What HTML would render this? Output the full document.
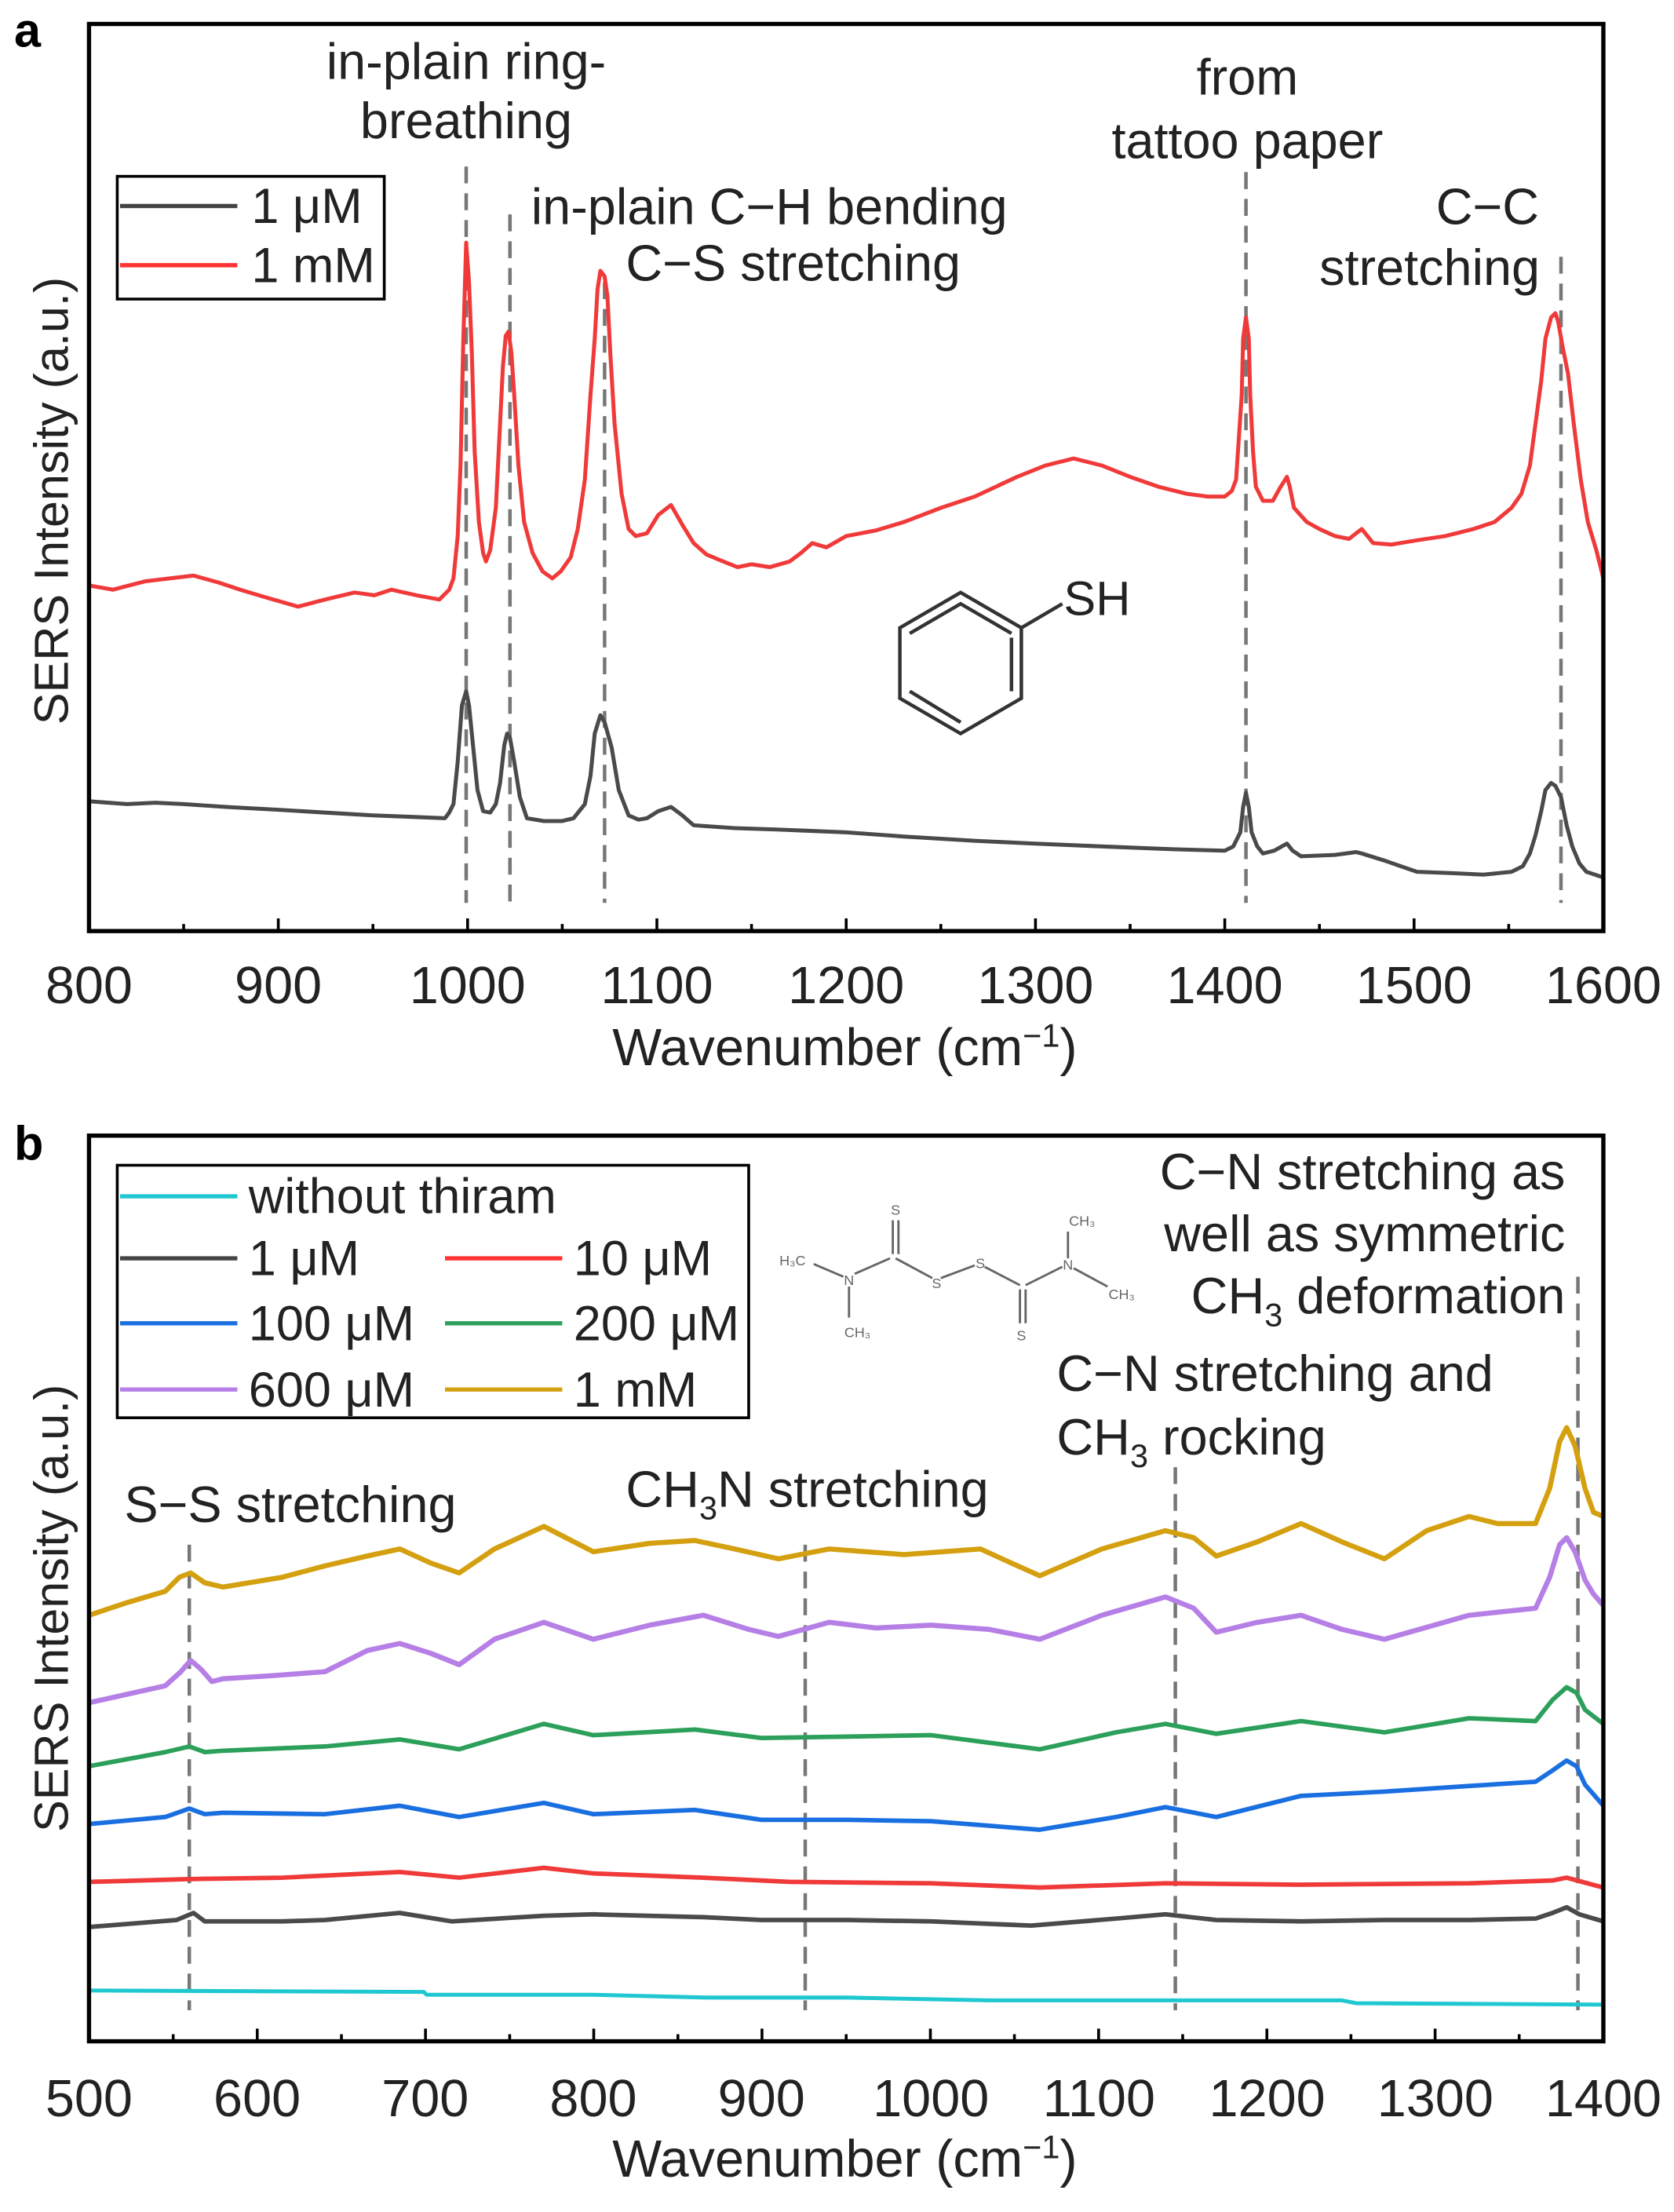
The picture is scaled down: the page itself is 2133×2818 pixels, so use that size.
<!DOCTYPE html>
<html><head><meta charset="utf-8"><style>
html,body{margin:0;padding:0;background:#fff;}
svg{display:block;}
text{font-family:"Liberation Sans",sans-serif;fill:#222;}
</style></head><body>
<svg width="2133" height="2818" viewBox="0 0 1185 1568" preserveAspectRatio="none" xmlns="http://www.w3.org/2000/svg">
<rect width="1185" height="1568" fill="#fff"/>
<text x="10" y="33" font-size="34" font-weight="bold" style="fill:#000">a</text>
<text x="10" y="822" font-size="34" font-weight="bold" style="fill:#000">b</text>

<g stroke="#777" stroke-width="2.5" stroke-dasharray="12,7">
<line x1="330" x2="330" y1="118" y2="640"/>
<line x1="361" x2="361" y1="152" y2="640"/>
<line x1="428" x2="428" y1="200" y2="640"/>
<line x1="882" x2="882" y1="122" y2="640"/>
<line x1="1105" x2="1105" y1="182" y2="640"/>
</g>
<g fill="none" stroke-width="2.8" stroke-linejoin="round">
<polyline stroke="#f03a3a" points="63,415 80,418 103,412 120,410 137,408 155,413 170,418 190,424 211,430 230,425 251,420 265,422 277,418 295,422 311,425 318,418 321,410 324,380 326,330 328,240 330,172 332,200 334,250 336,320 339,370 342,392 344,398 347,390 351,360 354,300 356,260 358,238 360,235 362,250 364,280 367,330 371,370 377,392 384,405 391,410 397,405 404,395 409,375 414,340 418,280 421,240 423,205 425,192 428,196 430,210 432,250 435,300 440,350 445,375 450,380 458,378 466,365 475,358 483,372 491,385 500,393 512,398 522,402 532,400 545,402 559,398 567,392 575,385 585,388 599,380 620,376 640,370 666,360 690,352 720,338 740,330 760,325 780,330 800,338 820,345 840,350 855,352 867,352 872,348 875,340 877,310 879,280 880,240 882,225 884,240 885,280 887,320 889,345 894,355 901,355 906,346 911,338 913,345 916,360 925,370 934,375 945,380 955,382 960,378 964,375 968,380 972,385 985,386 1003,383 1023,380 1043,375 1058,370 1070,360 1077,350 1083,330 1087,300 1091,270 1094,240 1098,225 1101,222 1103,228 1106,245 1110,265 1114,300 1119,340 1124,370 1130,390 1135,410"/>
<polyline stroke="#4a4a4a" points="63,568 90,570 110,569 130,570 160,572 197,574 230,576 264,578 290,579 315,580 318,576 321,570 324,540 327,500 330,490 332,500 335,530 338,560 342,575 347,576 351,570 354,555 357,528 359,520 361,523 364,540 368,565 373,580 385,582 398,582 406,580 414,570 418,550 421,520 425,507 428,512 433,530 438,560 445,578 452,581 458,580 466,575 475,572 483,578 491,585 520,587 550,588 599,590 640,593 690,596 733,598 780,600 830,602 867,603 873,600 878,590 880,572 882,562 884,572 886,590 890,600 894,605 902,603 911,598 915,603 921,607 945,606 960,604 964,605 980,610 1003,618 1030,619 1050,620 1070,618 1078,614 1083,605 1087,592 1091,575 1094,560 1098,555 1101,557 1105,565 1109,585 1113,600 1118,612 1123,618 1135,622"/>
</g>

<g stroke="#777" stroke-width="2.5" stroke-dasharray="12,7">
<line x1="134" x2="134" y1="1095" y2="1425"/>
<line x1="570" x2="570" y1="1095" y2="1425"/>
<line x1="832" x2="832" y1="1040" y2="1425"/>
<line x1="1117" x2="1117" y1="905" y2="1425"/>
</g>
<g fill="none" stroke-linejoin="round">
<polyline stroke="#1fc8d0" stroke-width="2.8" points="63,1411 300,1412 302,1414 420,1414 500,1416 600,1416 700,1418 950,1418 960,1420 1135,1421"/>
<polyline stroke="#4a4a4a" stroke-width="3.2" points="63,1366 100,1363 125,1361 137,1356 145,1362 200,1362 230,1361 283,1356 320,1362 385,1358 420,1357 498,1359 539,1361 600,1361 659,1362 730,1365 790,1360 825,1357 861,1361 921,1362 980,1361 1040,1361 1087,1360 1099,1356 1109,1352 1118,1357 1135,1362"/>
<polyline stroke="#f03a3a" stroke-width="3.2" points="63,1334 134,1332 200,1331 283,1327 325,1331 385,1324 420,1328 498,1331 560,1334 659,1335 736,1338 825,1335 921,1336 1040,1335 1099,1333 1109,1331 1120,1334 1135,1338"/>
<polyline stroke="#1a6fe0" stroke-width="3.2" points="63,1293 117,1288 134,1282 145,1286 158,1285 230,1286 283,1280 325,1288 385,1278 420,1286 492,1283 539,1290 600,1290 659,1291 736,1297 790,1288 825,1281 861,1288 921,1273 980,1270 1040,1266 1087,1263 1099,1255 1109,1248 1116,1252 1122,1265 1135,1280"/>
<polyline stroke="#2ca05a" stroke-width="3.2" points="63,1252 117,1242 134,1238 145,1242 158,1241 230,1238 283,1233 325,1240 385,1222 420,1230 492,1226 539,1232 600,1231 659,1230 736,1240 790,1228 825,1222 861,1229 921,1220 980,1228 1040,1218 1087,1220 1099,1205 1109,1196 1116,1200 1122,1212 1135,1222"/>
<polyline stroke="#b57fe6" stroke-width="3.6" points="63,1207 90,1201 117,1195 128,1185 135,1177 142,1183 150,1192 158,1190 190,1188 230,1185 260,1170 283,1165 305,1172 325,1180 350,1162 385,1150 420,1162 460,1152 498,1145 530,1155 551,1160 587,1150 620,1154 659,1152 700,1155 736,1162 780,1145 825,1132 845,1140 861,1157 890,1150 921,1145 950,1155 980,1162 1040,1145 1087,1140 1097,1118 1104,1095 1109,1090 1115,1100 1122,1120 1128,1130 1135,1138"/>
<polyline stroke="#d4a010" stroke-width="3.6" points="63,1145 90,1136 117,1128 127,1118 135,1115 145,1122 158,1125 200,1118 230,1110 260,1103 283,1098 305,1108 325,1115 350,1098 385,1082 420,1100 460,1094 492,1092 520,1098 551,1105 587,1098 640,1102 694,1098 716,1108 736,1117 780,1098 825,1085 845,1090 861,1103 890,1093 921,1080 950,1093 980,1105 1010,1085 1040,1075 1060,1080 1087,1080 1097,1055 1104,1022 1109,1012 1115,1025 1122,1055 1128,1072 1135,1075"/>
</g>

<rect x="63" y="17" width="1072" height="643" fill="none" stroke="#000" stroke-width="3"/>
<rect x="63" y="805" width="1072" height="642" fill="none" stroke="#000" stroke-width="3"/>

<g stroke="#000" stroke-width="2">
<path d="M63,660v-9M130,660v-5M197,660v-9M264,660v-5M331,660v-9M398,660v-5M465,660v-9M532,660v-5M599,660v-9M666,660v-5M733,660v-9M800,660v-5M867,660v-9M934,660v-5M1001,660v-9M1068,660v-5M1135,660v-9"/>
<path d="M63,1447v-9M122.6,1447v-5M182.1,1447v-9M241.7,1447v-5M301.2,1447v-9M360.8,1447v-5M420.3,1447v-9M479.9,1447v-5M539.4,1447v-9M599,1447v-5M658.6,1447v-9M718.1,1447v-5M777.7,1447v-9M837.2,1447v-5M896.8,1447v-9M956.3,1447v-5M1015.9,1447v-9M1075.4,1447v-5M1135,1447v-9"/>
</g>
<g font-size="37" text-anchor="middle">
<text x="63" y="711">800</text><text x="197" y="711">900</text><text x="331" y="711">1000</text><text x="465" y="711">1100</text><text x="599" y="711">1200</text><text x="733" y="711">1300</text><text x="867" y="711">1400</text><text x="1001" y="711">1500</text><text x="1135" y="711">1600</text>
<text x="63" y="1500">500</text><text x="182" y="1500">600</text><text x="301" y="1500">700</text><text x="420" y="1500">800</text><text x="539" y="1500">900</text><text x="659" y="1500">1000</text><text x="778" y="1500">1100</text><text x="897" y="1500">1200</text><text x="1016" y="1500">1300</text><text x="1135" y="1500">1400</text>
</g>

<text transform="translate(48,355) rotate(-90)" text-anchor="middle" font-size="34">SERS Intensity (a.u.)</text>
<text transform="translate(48,1140) rotate(-90)" text-anchor="middle" font-size="34">SERS Intensity (a.u.)</text>
<text x="598" y="755" text-anchor="middle" font-size="37">Wavenumber (cm<tspan dy="-13" font-size="23">−1</tspan><tspan dy="13">)</tspan></text>
<text x="598" y="1543" text-anchor="middle" font-size="37">Wavenumber (cm<tspan dy="-13" font-size="23">−1</tspan><tspan dy="13">)</tspan></text>

<g font-size="36">
<text x="330" y="56" text-anchor="middle">in-plain ring-</text>
<text x="330" y="98" text-anchor="middle">breathing</text>
<text x="376" y="159">in-plain C−H bending</text>
<text x="443" y="199">C−S stretching</text>
<text x="883" y="67" text-anchor="middle">from</text>
<text x="883" y="112" text-anchor="middle">tattoo  paper</text>
<text x="1053" y="159" text-anchor="middle">C−C</text>
<text x="1012" y="202" text-anchor="middle">stretching</text>
<text x="88" y="1079">S−S stretching</text>
<text x="443" y="1068">CH<tspan dy="9" font-size="23">3</tspan><tspan dy="-9">N stretching</tspan></text>
<text x="748" y="986">C−N stretching and</text>
<text x="748" y="1031">CH<tspan dy="9" font-size="23">3</tspan><tspan dy="-9"> rocking</tspan></text>
<text x="1108" y="843" text-anchor="end">C−N stretching as</text>
<text x="1108" y="887" text-anchor="end">well as symmetric</text>
<text x="1108" y="931" text-anchor="end">CH<tspan dy="9" font-size="23">3</tspan><tspan dy="-9"> deformation</tspan></text>
</g>
<g stroke="#333" stroke-width="2.5" fill="none">
<polygon points="680,420 723,445 723,495 680,520 637,495 637,445"/>
<polyline points="644,449 680,428 716,449"/>
<line x1="716" y1="452" x2="716" y2="490"/>
<line x1="644" y1="490" x2="680" y2="512"/>
<line x1="723" y1="445" x2="752" y2="428"/>
</g>
<text x="753" y="436" font-size="34">SH</text>
<g stroke="#666" stroke-width="1.6" fill="none">
<line x1="576" y1="896" x2="597" y2="905"/>
<line x1="605" y1="903" x2="630" y2="892"/>
<line x1="601" y1="912" x2="601" y2="934"/>
<line x1="632" y1="889" x2="632" y2="865"/><line x1="636" y1="889" x2="636" y2="865"/>
<line x1="634" y1="892" x2="660" y2="906"/>
<line x1="666" y1="906" x2="690" y2="897"/>
<line x1="697" y1="898" x2="722" y2="911"/>
<line x1="722" y1="914" x2="722" y2="938"/><line x1="726" y1="914" x2="726" y2="938"/>
<line x1="726" y1="911" x2="752" y2="898"/>
<line x1="756" y1="892" x2="756" y2="873"/>
<line x1="760" y1="899" x2="784" y2="912"/>
</g>
<g font-size="10" text-anchor="middle">
<text x="561" y="897" style="fill:#666">H₃C</text>
<text x="601" y="911" style="fill:#666">N</text>
<text x="634" y="861" style="fill:#666">S</text>
<text x="663" y="913" style="fill:#666">S</text>
<text x="694" y="899" style="fill:#666">S</text>
<text x="723" y="950" style="fill:#666">S</text>
<text x="756" y="900" style="fill:#666">N</text>
<text x="766" y="869" style="fill:#666">CH₃</text>
<text x="794" y="921" style="fill:#666">CH₃</text>
<text x="607" y="948" style="fill:#666">CH₃</text>
</g>
<rect x="83" y="125" width="189" height="87" fill="#fff" stroke="#000" stroke-width="2"/>
<line x1="85" y1="146" x2="168" y2="146" stroke="#444" stroke-width="3"/>
<line x1="85" y1="188" x2="168" y2="188" stroke="#f33" stroke-width="3"/>
<text x="178" y="158" font-size="35">1 μM</text>
<text x="178" y="200" font-size="35">1 mM</text>
<rect x="83" y="826" width="447" height="179" fill="#fff" stroke="#000" stroke-width="2"/>
<g stroke-width="3">
<line x1="85" y1="848" x2="168" y2="848" stroke="#1fc8d0"/>
<line x1="85" y1="892" x2="168" y2="892" stroke="#444"/>
<line x1="315" y1="892" x2="398" y2="892" stroke="#f33"/>
<line x1="85" y1="938" x2="168" y2="938" stroke="#1a6fe0"/>
<line x1="315" y1="938" x2="398" y2="938" stroke="#2ca05a"/>
<line x1="85" y1="985" x2="168" y2="985" stroke="#b57fe6"/>
<line x1="315" y1="985" x2="398" y2="985" stroke="#d4a010"/>
</g>
<g font-size="35">
<text x="176" y="860">without thiram</text>
<text x="176" y="904">1 μM</text><text x="406" y="904">10 μM</text>
<text x="176" y="950">100 μM</text><text x="406" y="950">200 μM</text>
<text x="176" y="997">600 μM</text><text x="406" y="997">1 mM</text>
</g>
</svg>
</body></html>
